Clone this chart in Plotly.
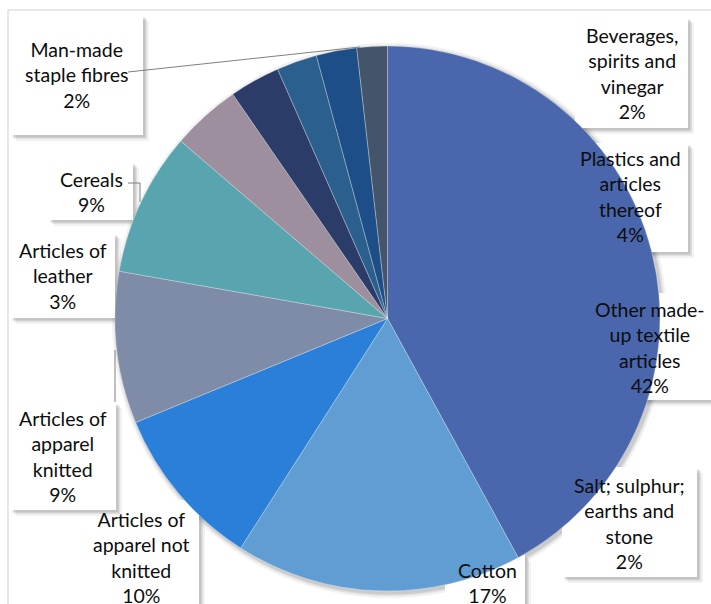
import plotly.graph_objects as go

# ---- data (clockwise from 12 o'clock) ----
categories = [
    "Other made-up textile articles",
    "Cotton",
    "Articles of apparel not knitted",
    "Articles of apparel knitted",
    "Cereals",
    "Plastics and articles thereof",
    "Articles of leather",
    "Salt; sulphur; earths and stone",
    "Beverages, spirits and vinegar",
    "Man-made staple fibres",
]
values = [42.0, 17.0, 9.7, 9.0, 8.5, 4.1, 3.0, 2.4, 2.4, 1.8]
pct_labels = ["42%", "17%", "10%", "9%", "9%", "4%", "3%", "2%", "2%", "2%"]
label_lines = [
    "Other made-<br>up textile<br>articles",
    "Cotton",
    "Articles of<br>apparel not<br>knitted",
    "Articles of<br>apparel<br>knitted",
    "Cereals",
    "Plastics and<br>articles<br>thereof",
    "Articles of<br>leather",
    "Salt; sulphur;<br>earths and<br>stone",
    "Beverages,<br>spirits and<br>vinegar",
    "Man-made<br>staple fibres",
]

# ---- styles / layout ----
colors = ["#4a66ac", "#5f9dd2", "#2a7fd8", "#7e8ca8", "#59a5af",
          "#9d8f9e", "#2c3c69", "#2b5f8d", "#1e4e87", "#44546a"]
W, H = 711, 604
# label boxes in pixel coords (x0, y0, x1, y1) and text centres
boxes = [
    (583, 293, 713, 400), (445, 555, 525, 620), (82, 500, 199, 620),
    (10, 402, 116, 510), (48, 162, 133, 220), (567, 143, 688, 252),
    (10, 233, 115, 318), (562, 467, 697, 577), (575, 17, 688, 128),
    (10, 15, 143, 135),
]
text_centres = [
    (650, 347), (487, 583), (141, 557), (63, 456), (91, 192), (630, 196),
    (63, 276), (629, 523), (632, 73), (76, 75),
]
leaders = [
    [(128, 72), (360, 47)],
    [(128, 183), (140, 183), (140, 202)],
    [(115, 350), (115, 402)],
]

def px(x):
    return x / W

def py(y):
    return 1 - y / H

fig = go.Figure(go.Pie(
    labels=categories, values=values, sort=False, direction="clockwise",
    rotation=0, textinfo="none", hoverinfo="label+percent",
    marker=dict(colors=colors, line=dict(color="white", width=0.3)),
    domain=dict(x=[px(115), px(660)], y=[py(591), py(46)]),
    showlegend=False,
))

shapes = []
# chart area border
shapes.append(dict(type="rect", xref="paper", yref="paper", layer="below",
                   x0=px(8), x1=1.05, y0=-0.05, y1=py(10),
                   line=dict(color="#d0d0d0", width=1), fillcolor="rgba(0,0,0,0)"))
# soft pie shadow
for d, op in [(5, 0.05), (3, 0.07), (1.5, 0.09)]:
    shapes.append(dict(type="circle", xref="paper", yref="paper", layer="below",
                       x0=px(115 - d + 2), x1=px(660 + d + 2),
                       y0=py(591 + d + 2), y1=py(46 - d + 2),
                       line=dict(width=0), fillcolor=f"rgba(0,0,0,{op})"))
# label boxes with soft shadows
for (x0, y0, x1, y1) in boxes:
    for off, op in [(6, 0.05), (4, 0.08), (2.5, 0.12)]:
        shapes.append(dict(type="rect", xref="paper", yref="paper", layer="below",
                           x0=px(x0 + off), x1=px(x1 + off), y0=py(y1 + off), y1=py(y0 + off),
                           line=dict(width=0), fillcolor=f"rgba(0,0,0,{op})"))
    shapes.append(dict(type="rect", xref="paper", yref="paper", layer="below",
                       x0=px(x0), x1=px(x1), y0=py(y1), y1=py(y0),
                       line=dict(width=0), fillcolor="white"))
# leader lines
for pts in leaders:
    path = "M " + " L ".join(f"{px(x)},{py(y)}" for x, y in pts)
    shapes.append(dict(type="path", xref="paper", yref="paper", layer="above",
                       path=path, line=dict(color="#7f7f7f", width=1)))

annotations = []
for name, pct, (cx, cy) in zip(label_lines, pct_labels, text_centres):
    annotations.append(dict(x=px(cx), y=py(cy), xref="paper", yref="paper",
                            text=f"{name}<br>{pct}", showarrow=False,
                            xanchor="center", yanchor="middle", align="center",
                            font=dict(family="Lato", size=19.5, color="#0d0d0d")))

fig.update_layout(
    width=W, height=H, margin=dict(l=0, r=0, t=0, b=0),
    paper_bgcolor="white", plot_bgcolor="white",
    shapes=shapes, annotations=annotations,
)
fig.write_html(
    "out.html",
    config={"displayModeBar": False},
    post_script="document.body.style.margin='0px';document.body.style.overflow='hidden';",
)
